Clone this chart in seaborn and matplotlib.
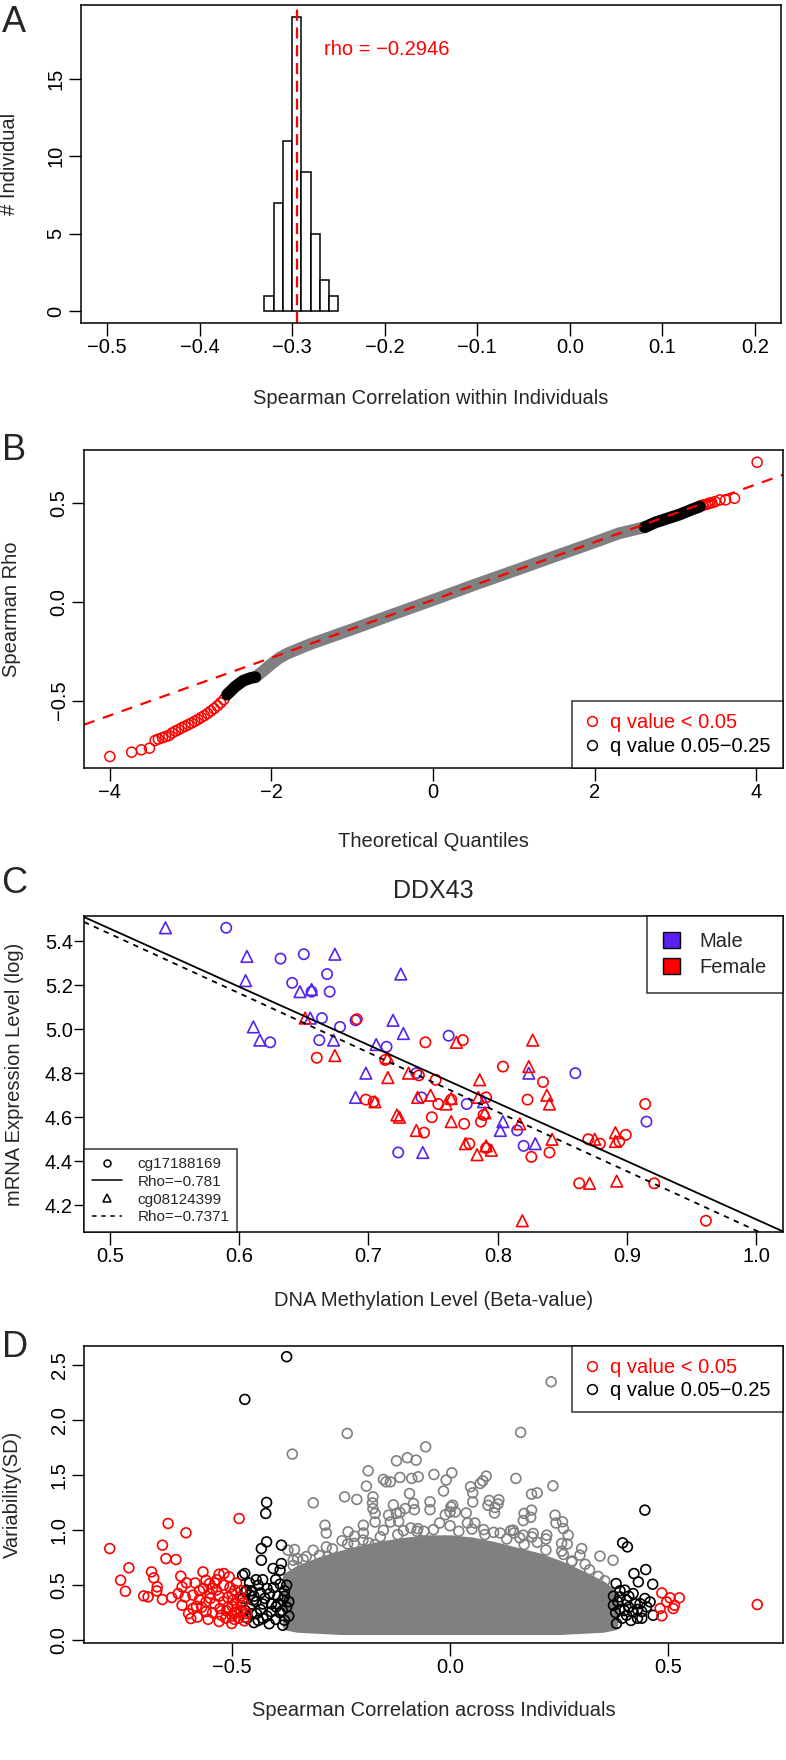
import matplotlib
matplotlib.use("Agg")
import matplotlib.pyplot as plt
import seaborn as sns
from matplotlib.lines import Line2D
from matplotlib.patches import Patch

RED = "#FF0000"
BLUE = "#5522EE"
GRAY = "#808080"

# ---------------- Panel A: per-individual correlation histogram
hist_edges = [-0.33, -0.32, -0.31, -0.30, -0.29, -0.28, -0.27, -0.26, -0.25]
hist_counts = [1, 7, 11, 19, 9, 5, 2, 1]
rho_within = -0.2946

# ---------------- Panel B: QQ plot of Spearman rho
qq_gray_x = [-2.2, -2.1, -2.0, -1.9, -1.8, -1.6, -1.5, -1.0, -0.5, 0.0, 0.5, 1.0, 1.5, 2.0, 2.3, 2.62]
qq_gray_y = [-0.382, -0.35, -0.315, -0.284, -0.262, -0.228, -0.212, -0.14, -0.065, 0.008, 0.083,
             0.155, 0.228, 0.30, 0.345, 0.376]
qq_black_lo_x = [-2.55, -2.45, -2.35, -2.25, -2.2]
qq_black_lo_y = [-0.47, -0.43, -0.40, -0.385, -0.382]
qq_black_hi_x = [2.62, 2.75, 2.9, 3.05, 3.2, 3.3]
qq_black_hi_y = [0.376, 0.40, 0.42, 0.44, 0.465, 0.48]
qq_red_x = [-4.0, -3.73, -3.61, -3.51, -3.44, -3.40, -3.35, -3.31, -3.27, -3.23, -3.19, -3.15, -3.11,
            -3.07, -3.03, -2.99, -2.95, -2.91, -2.87, -2.83, -2.79, -2.75, -2.71, -2.67, -2.63, -2.59,
            3.31, 3.34, 3.37, 3.40, 3.42, 3.45, 3.49, 3.55, 3.62, 3.73, 4.01]
qq_red_y = [-0.783, -0.761, -0.749, -0.741, -0.702, -0.695, -0.688, -0.682, -0.677, -0.664, -0.655, -0.647, -0.638,
            -0.630, -0.622, -0.614, -0.605, -0.596, -0.586, -0.576, -0.565, -0.553, -0.541, -0.527, -0.512, -0.495,
            0.484, 0.488, 0.490, 0.494, 0.497, 0.500, 0.505, 0.514, 0.514, 0.522, 0.704]
qq_line = (0.0085, 0.146)  # intercept, slope

# ---------------- Panel C: DDX43 methylation vs expression
c_male_circ_x = [0.590, 0.632, 0.650, 0.668, 0.641, 0.656, 0.670, 0.664, 0.678, 0.662, 0.624,
                 0.690, 0.714, 0.723, 0.762, 0.737, 0.741, 0.776, 0.815, 0.820, 0.860, 0.915]
c_male_circ_y = [5.46, 5.32, 5.34, 5.25, 5.21, 5.17, 5.17, 5.05, 5.01, 4.95, 4.94,
                 5.04, 4.92, 4.44, 4.97, 4.80, 4.69, 4.66, 4.54, 4.47, 4.80, 4.58]
c_male_tri_x = [0.543, 0.606, 0.605, 0.611, 0.616, 0.647, 0.656, 0.655, 0.674, 0.673, 0.698,
                0.690, 0.706, 0.719, 0.725, 0.727, 0.824, 0.789, 0.804, 0.802, 0.829, 0.742]
c_male_tri_y = [5.46, 5.33, 5.22, 5.01, 4.95, 5.17, 5.18, 5.05, 5.34, 4.95, 4.80,
                4.69, 4.93, 5.04, 5.25, 4.98, 4.80, 4.67, 4.58, 4.54, 4.48, 4.44]
c_female_circ_x = [0.691, 0.660, 0.698, 0.704, 0.713, 0.744, 0.773, 0.804, 0.835, 0.739, 0.752,
                   0.754, 0.764, 0.749, 0.743, 0.774, 0.778, 0.787, 0.791, 0.789, 0.791, 0.823,
                   0.826, 0.840, 0.870, 0.879, 0.894, 0.899, 0.914, 0.863, 0.921, 0.961]
c_female_circ_y = [5.045, 4.87, 4.68, 4.67, 4.86, 4.94, 4.95, 4.83, 4.76, 4.79, 4.77,
                   4.66, 4.68, 4.60, 4.53, 4.57, 4.48, 4.58, 4.69, 4.61, 4.46, 4.68,
                   4.42, 4.44, 4.50, 4.48, 4.49, 4.52, 4.66, 4.30, 4.30, 4.13]
c_female_tri_x = [0.651, 0.674, 0.705, 0.715, 0.715, 0.722, 0.731, 0.768, 0.827, 0.786, 0.824, 0.748,
                  0.738, 0.760, 0.764, 0.785, 0.838, 0.840, 0.724, 0.764, 0.737, 0.790, 0.817, 0.842,
                  0.775, 0.784, 0.791, 0.795, 0.875, 0.891, 0.891, 0.871, 0.892, 0.819]
c_female_tri_y = [5.05, 4.88, 4.67, 4.78, 4.87, 4.61, 4.80, 4.94, 4.95, 4.77, 4.83, 4.70,
                  4.69, 4.66, 4.685, 4.69, 4.70, 4.66, 4.60, 4.58, 4.54, 4.62, 4.57, 4.50,
                  4.48, 4.43, 4.47, 4.45, 4.50, 4.53, 4.49, 4.30, 4.31, 4.13]
c_probes = ["cg17188169", "cg08124399"]
c_rho = ["Rho=\u22120.781", "Rho=\u22120.7371"]
c_fit = [(6.776, -2.64), (6.780, -2.695)]  # intercept, slope per probe

# ---------------- Panel D: correlation across individuals vs variability
# solid core of the grey cloud (thousands of overlapping circles)
d_cloud_x = [-0.375, -0.35, -0.30, -0.25, -0.20, -0.15, -0.10, -0.05, 0.0, 0.05,
             0.10, 0.15, 0.20, 0.25, 0.30, 0.35, 0.375]
d_cloud_top = [0.58, 0.64, 0.72, 0.78, 0.83, 0.87, 0.90, 0.92, 0.92, 0.90,
               0.86, 0.81, 0.76, 0.69, 0.60, 0.50, 0.42]
d_cloud_bottom = [0.13, 0.11, 0.10, 0.09, 0.09, 0.09, 0.09, 0.09, 0.09, 0.09,
                  0.09, 0.09, 0.09, 0.09, 0.10, 0.11, 0.13]
d_gray = [(0.232, 2.348), (0.162, 1.888), (-0.236, 1.879), (-0.362, 1.691), (-0.056, 1.757),
          (-0.188, 1.539), (-0.123, 1.630), (-0.098, 1.658), (-0.078, 1.636), (-0.153, 1.461),
          (-0.137, 1.439), (-0.037, 1.506), (0.004, 1.521), (-0.009, 1.455), (-0.192, 1.400),
          (-0.115, 1.479), (-0.088, 1.470), (-0.073, 1.485), (-0.147, 1.439), (0.151, 1.470),
          (-0.093, 1.333), (-0.177, 1.303), (-0.242, 1.303), (-0.214, 1.279), (-0.015, 1.355),
          (0.047, 1.394), (0.052, 1.339), (0.069, 1.424), (0.083, 1.491), (0.075, 1.448),
          (-0.314, 1.248), (-0.178, 1.248), (-0.084, 1.242), (0.090, 1.270), (0.103, 1.206),
          (0.112, 1.276), (0.187, 1.327), (0.200, 1.339), (0.236, 1.403), (-0.123, 1.152),
          (-0.141, 1.136), (-0.172, 1.152), (0.187, 1.182), (0.170, 1.152), (0.241, 1.136),
          (0.258, 1.076), (-0.287, 1.045), (-0.199, 1.045), (-0.046, 1.258), (0.002, 1.212),
          (0.006, 1.227), (-0.130, 1.230), (-0.115, 1.161), (-0.234, 0.985), (-0.219, 0.945),
          (0.271, 0.955), (0.256, 0.879), (0.145, 1.000), (0.222, 0.955), (0.191, 0.970),
          (0.168, 0.955), (0.302, 0.833), (0.298, 0.773), (0.279, 0.712), (0.344, 0.764),
          (0.374, 0.727), (-0.357, 0.824), (-0.372, 0.818), (-0.360, 0.727), (-0.337, 0.733),
          (-0.314, 0.818), (-0.284, 0.848),
          (0.052, 1.256), (0.087, 1.226), (0.110, 1.238), (0.102, 1.156), (-0.177, 1.196),
          (-0.103, 1.196), (-0.082, 1.186), (-0.046, 1.186), (0.000, 1.165), (0.012, 1.165),
          (0.037, 1.156), (0.185, 1.117), (0.168, 1.087), (0.243, 1.065), (0.260, 1.014),
          (0.220, 0.920), (0.269, 0.875), (0.256, 0.809), (0.188, 0.938), (-0.172, 1.074),
          (-0.137, 1.074), (-0.118, 1.080), (-0.074, 1.014), (-0.076, 0.990), (-0.107, 0.996),
          (-0.284, 0.974), (-0.199, 0.974), (-0.248, 0.904), (-0.235, 0.875), (-0.187, 0.884),
          (-0.172, 0.869), (-0.153, 0.999), (-0.038, 1.005), (-0.024, 1.065), (-0.011, 1.140),
          (0.040, 1.065), (0.057, 1.065), (0.077, 1.005), (0.115, 0.974), (0.139, 0.996),
          (0.147, 0.974), (-0.330, 0.760), (-0.300, 0.770), (-0.270, 0.830), (-0.220, 0.880),
          (-0.120, 0.960), (-0.060, 0.990), (0.020, 0.990), (0.080, 0.960), (0.130, 0.920),
          (0.170, 0.870), (0.220, 0.820), (0.280, 0.720), (0.320, 0.640), (0.340, 0.580),
          (-0.360, 0.680), (-0.200, 0.910), (-0.090, 1.020), (0.000, 1.040), (0.100, 0.980),
          (0.200, 0.890), (0.310, 0.690), (-0.280, 0.760), (-0.160, 0.940), (0.050, 1.010),
          (0.160, 0.930), (0.260, 0.780), (-0.350, 0.740), (0.355, 0.540)]
d_black = [(-0.471, 2.188), (-0.375, 2.576), (-0.421, 1.252), (-0.423, 1.152), (-0.421, 0.894),
           (-0.433, 0.833), (-0.433, 0.727), (-0.406, 0.652), (-0.387, 0.864), (-0.387, 0.697),
           (-0.390, 0.636), (-0.471, 0.606), (-0.476, 0.591), (-0.467, 0.455), (-0.452, 0.364),
           (-0.444, 0.242), (-0.429, 0.197), (-0.414, 0.424), (-0.399, 0.303), (-0.384, 0.364),
           (-0.380, 0.182), (-0.384, 0.136), (-0.460, 0.300), (-0.455, 0.450), (-0.445, 0.350),
           (-0.440, 0.500), (-0.435, 0.280), (-0.425, 0.380), (-0.420, 0.220), (-0.410, 0.330),
           (-0.405, 0.480), (-0.395, 0.400), (-0.390, 0.250), (-0.380, 0.450), (-0.375, 0.300),
           (-0.465, 0.200), (-0.450, 0.160), (-0.430, 0.550), (-0.400, 0.550), (-0.415, 0.150),
           (-0.370, 0.220), (-0.475, 0.380), (-0.460, 0.520), (-0.470, 0.270), (-0.470, 0.440),
           (-0.455, 0.240), (-0.450, 0.400), (-0.440, 0.180), (-0.435, 0.430), (-0.430, 0.330),
           (-0.420, 0.470), (-0.410, 0.260), (-0.400, 0.190), (-0.395, 0.330), (-0.385, 0.270),
           (-0.380, 0.400), (-0.375, 0.500), (-0.370, 0.350), (-0.390, 0.510), (-0.445, 0.550),
           (-0.460, 0.410),
           (0.447, 1.182), (0.396, 0.885), (0.407, 0.848), (0.449, 0.642), (0.422, 0.606),
           (0.381, 0.515), (0.432, 0.530), (0.465, 0.509), (0.375, 0.318), (0.390, 0.394),
           (0.405, 0.364), (0.420, 0.424), (0.436, 0.333), (0.451, 0.303), (0.466, 0.227),
           (0.382, 0.152), (0.405, 0.227), (0.420, 0.258), (0.401, 0.455), (0.447, 0.379),
           (0.459, 0.348), (0.390, 0.280), (0.410, 0.300), (0.430, 0.200), (0.395, 0.200),
           (0.440, 0.260), (0.380, 0.250), (0.385, 0.350), (0.400, 0.270), (0.410, 0.400),
           (0.415, 0.180), (0.425, 0.330), (0.430, 0.280), (0.390, 0.450), (0.375, 0.400),
           (0.440, 0.200)]
d_red = [(-0.781, 0.833), (-0.756, 0.545), (-0.745, 0.445), (-0.737, 0.658), (-0.703, 0.403),
         (-0.693, 0.394), (-0.685, 0.621), (-0.680, 0.567), (-0.672, 0.485), (-0.673, 0.448),
         (-0.660, 0.864), (-0.660, 0.370), (-0.652, 0.742), (-0.647, 1.061), (-0.639, 0.388),
         (-0.629, 0.733), (-0.624, 0.424), (-0.618, 0.582), (-0.615, 0.485), (-0.615, 0.318),
         (-0.606, 0.976), (-0.605, 0.521), (-0.608, 0.394), (-0.600, 0.242), (-0.595, 0.197),
         (-0.590, 0.288), (-0.582, 0.309), (-0.575, 0.370), (-0.567, 0.621), (-0.566, 0.470),
         (-0.560, 0.545), (-0.552, 0.515), (-0.551, 0.424), (-0.545, 0.470), (-0.536, 0.455),
         (-0.528, 0.288), (-0.525, 0.227), (-0.519, 0.606), (-0.513, 0.267), (-0.507, 0.576),
         (-0.501, 0.152), (-0.498, 0.364), (-0.494, 0.455), (-0.489, 0.258), (-0.484, 1.106),
         (-0.482, 0.394), (-0.479, 0.318), (-0.472, 0.176), (-0.467, 0.242), (-0.540, 0.330),
         (-0.530, 0.400), (-0.520, 0.350), (-0.510, 0.300), (-0.500, 0.420), (-0.495, 0.250),
         (-0.490, 0.520), (-0.515, 0.200), (-0.545, 0.250), (-0.560, 0.350), (-0.575, 0.450),
         (-0.585, 0.520), (-0.590, 0.410), (-0.570, 0.300), (-0.555, 0.190), (-0.535, 0.550),
         (-0.505, 0.480), (-0.485, 0.200), (-0.480, 0.450), (-0.475, 0.340), (-0.530, 0.170),
         (-0.520, 0.500), (-0.510, 0.390), (-0.500, 0.220), (-0.490, 0.330), (-0.480, 0.270),
         (-0.470, 0.210), (-0.550, 0.380), (-0.560, 0.260), (-0.580, 0.210), (-0.540, 0.520),
         (-0.530, 0.600), (-0.500, 0.310), (-0.495, 0.190),
         (0.705, 0.324), (0.486, 0.430), (0.497, 0.348), (0.505, 0.385), (0.515, 0.318),
         (0.526, 0.385), (0.486, 0.222), (0.512, 0.288), (0.482, 0.288)]
q_labels = ["q value < 0.05", "q value 0.05\u22120.25"]

# ---------------- figure setup
sns.set_theme(style="ticks")
plt.rcParams["font.family"] = ["Liberation Sans", "DejaVu Sans"]
plt.rcParams["axes.unicode_minus"] = True

W, H = 786, 1760
FS = 14.5
fig = plt.figure(figsize=(W / 100, H / 100), dpi=100)


def px_box(left, top, right, bottom):
    return [left / W, 1 - bottom / H, (right - left) / W, (bottom - top) / H]


def style_axes(ax, rotate_y=True):
    for s in ax.spines.values():
        s.set_linewidth(1.1)
        s.set_color("black")
        s.set_visible(True)
    ax.tick_params(direction="out", length=9, width=1.0, labelsize=FS, pad=2, colors="black")
    ax.grid(False)
    if rotate_y:
        for t in ax.get_yticklabels():
            t.set_rotation(90)
            t.set_va("center")


def set_labels(ax, xlab, ylab, xpos, ypos):
    ax.set_xlabel(xlab, fontsize=FS, va="center")
    ax.set_ylabel(ylab, fontsize=FS, va="center")
    ax.xaxis.set_label_coords(0.5, xpos)
    ax.yaxis.set_label_coords(ypos, 0.5)


def open_scatter(ax, x, y, color, marker="o", s=52, lw=1.1):
    sns.scatterplot(x=x, y=y, ax=ax, marker=marker, s=s, facecolor="none",
                    edgecolor=color, linewidth=lw, legend=False)


def q_legend(ax, loc, spacing):
    handles = [Line2D([], [], ls="none", marker="o", mfc="none", mec=c, ms=7, mew=1.1)
               for c in (RED, "black")]
    leg = ax.legend(handles, q_labels, loc=loc, fontsize=FS, frameon=True, fancybox=False,
                    edgecolor="black", borderaxespad=0, handlelength=0.8, handletextpad=0.5,
                    borderpad=0.6, labelspacing=spacing)
    leg.get_frame().set_linewidth(1.1)
    for t, c in zip(leg.get_texts(), (RED, "black")):
        t.set_color(c)
    return leg


# ---------------- A
axA = fig.add_axes(px_box(81, 5, 781, 323))
centers = [(a + b) / 2 for a, b in zip(hist_edges[:-1], hist_edges[1:])]
sns.histplot(x=centers, weights=hist_counts, bins=hist_edges, ax=axA, color="white",
             edgecolor="black", linewidth=1.1, alpha=1)
axA.axvline(rho_within, color=RED, lw=1.6, dashes=(5, 3))
axA.text(-0.2657, 16.9, f"rho = {rho_within:.4f}".replace("-", "\u2212"), color=RED,
         fontsize=FS, ha="left", va="center")
axA.set_xlim(-0.528, 0.228)
axA.set_ylim(-0.76, 19.76)
axA.set_xticks([-0.5, -0.4, -0.3, -0.2, -0.1, 0.0, 0.1, 0.2])
axA.set_yticks([0, 5, 10, 15])
style_axes(axA)
set_labels(axA, "Spearman Correlation within Individuals", "# Individual", -0.236, -0.102)

# ---------------- B
axB = fig.add_axes(px_box(84, 450, 783, 768))
sns.lineplot(x=qq_gray_x, y=qq_gray_y, ax=axB, color=GRAY, linewidth=8.5, estimator=None,
             sort=False, solid_capstyle="round")
sns.lineplot(x=qq_black_lo_x, y=qq_black_lo_y, ax=axB, color="black", linewidth=8.5,
             estimator=None, sort=False, solid_capstyle="round")
sns.lineplot(x=qq_black_hi_x, y=qq_black_hi_y, ax=axB, color="black", linewidth=8.5,
             estimator=None, sort=False, solid_capstyle="round")
open_scatter(axB, qq_red_x, qq_red_y, RED)
axB.axline((0, qq_line[0]), slope=qq_line[1], color=RED, lw=1.6, dashes=(5, 4))
axB.set_xlim(-4.32, 4.33)
axB.set_ylim(-0.841, 0.766)
axB.set_xticks([-4, -2, 0, 2, 4])
axB.set_yticks([-0.5, 0.0, 0.5])
style_axes(axB)
set_labels(axB, "Theoretical Quantiles", "Spearman Rho", -0.231, -0.104)
q_legend(axB, "lower right", 0.25)

# ---------------- C
axC = fig.add_axes(px_box(84, 916, 783, 1232))
open_scatter(axC, c_male_circ_x, c_male_circ_y, BLUE, "o", 55, 1.2)
open_scatter(axC, c_male_tri_x, c_male_tri_y, BLUE, "^", 70, 1.2)
open_scatter(axC, c_female_circ_x, c_female_circ_y, RED, "o", 55, 1.2)
open_scatter(axC, c_female_tri_x, c_female_tri_y, RED, "^", 70, 1.2)
axC.axline((0, c_fit[0][0]), slope=c_fit[0][1], color="black", lw=1.3)
axC.axline((0, c_fit[1][0]), slope=c_fit[1][1], color="black", lw=1.3, dashes=(3, 3))
axC.set_xlim(0.48, 1.0206)
axC.set_ylim(4.079, 5.5135)
axC.set_xticks([0.5, 0.6, 0.7, 0.8, 0.9, 1.0])
axC.set_yticks([4.2, 4.4, 4.6, 4.8, 5.0, 5.2, 5.4])
style_axes(axC, rotate_y=False)
axC.tick_params(axis="y", length=7, pad=1)
set_labels(axC, "DNA Methylation Level (Beta-value)", "mRNA Expression Level (log)", -0.216, -0.1)
axC.set_title("DDX43", fontsize=18, y=1.079, pad=0, va="center")
hSex = [Patch(facecolor=BLUE, edgecolor="black", lw=1), Patch(facecolor=RED, edgecolor="black", lw=1)]
legSex = axC.legend(hSex, ["Male", "Female"], loc="upper right", fontsize=FS, frameon=True,
                    fancybox=False, edgecolor="black", borderaxespad=0, handlelength=0.8,
                    handleheight=0.8, handletextpad=1.0, borderpad=0.8, labelspacing=0.35)
legSex.get_frame().set_linewidth(1.1)
axC.add_artist(legSex)
hProbe = [Line2D([], [], ls="none", marker="o", mfc="none", mec="black", ms=5, mew=1.1),
          Line2D([], [], color="black", lw=1.1),
          Line2D([], [], ls="none", marker="^", mfc="none", mec="black", ms=6, mew=1.1),
          Line2D([], [], color="black", lw=1.1, dashes=(3, 3))]
legProbe = axC.legend(hProbe, [c_probes[0], c_rho[0], c_probes[1], c_rho[1]], loc="lower left",
                      fontsize=11, frameon=True, fancybox=False, edgecolor="black", borderaxespad=0,
                      handlelength=2.0, handletextpad=1.0, borderpad=0.5, labelspacing=0.25)
legProbe.get_frame().set_linewidth(1.1)

# ---------------- D
axD = fig.add_axes(px_box(84, 1346, 783, 1643))
axD.fill_between(d_cloud_x, d_cloud_bottom, d_cloud_top, color=GRAY, lw=6, edgecolor=GRAY)
open_scatter(axD, [p[0] for p in d_gray], [p[1] for p in d_gray], GRAY, "o", 50, 1.2)
open_scatter(axD, [p[0] for p in d_black], [p[1] for p in d_black], "black", "o", 50, 1.2)
open_scatter(axD, [p[0] for p in d_red], [p[1] for p in d_red], RED, "o", 50, 1.2)
axD.set_xlim(-0.84, 0.764)
axD.set_ylim(-0.025, 2.673)
axD.set_xticks([-0.5, 0.0, 0.5])
axD.set_yticks([0.0, 0.5, 1.0, 1.5, 2.0, 2.5])
style_axes(axD)
set_labels(axD, "Spearman Correlation across Individuals", "Variability(SD)", -0.227, -0.102)
q_legend(axD, "upper right", 0.2)

# panel letters
for letter, (lx, ly) in zip("ABCD", [(14, 22), (14, 451), (14, 883), (15, 1347)]):
    fig.text(lx / W, 1 - ly / H, letter, fontsize=26, ha="center", va="center")

fig.savefig("out.png", dpi=100)
